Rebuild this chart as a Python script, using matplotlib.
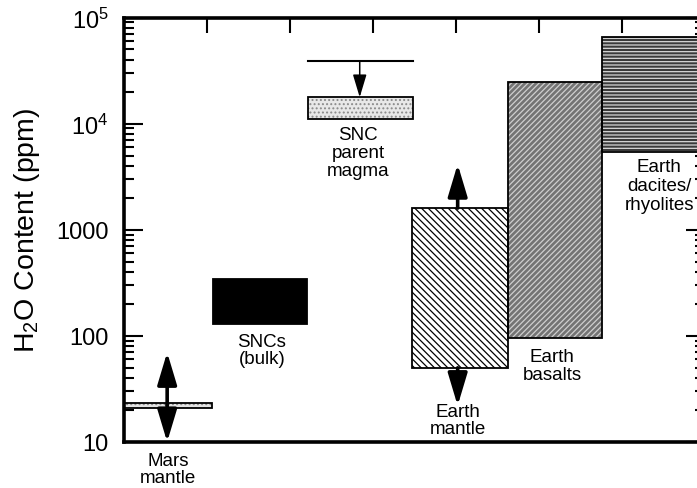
import numpy as np
import matplotlib
matplotlib.use("Agg")
import matplotlib.pyplot as plt
from matplotlib.patches import Rectangle

plt.rcParams['font.family'] = ['Liberation Sans', 'DejaVu Sans']
plt.rcParams['mathtext.default'] = 'regular'
plt.rcParams['hatch.linewidth'] = 0.9

# H2O content ranges (ppm)
groups = ["Mars\nmantle", "SNCs\n(bulk)", "SNC\nparent\nmagma",
          "Earth\nmantle", "Earth\nbasalts", "Earth\ndacites/\nrhyolites"]
low = [21, 130, 11000, 50, 95, 5400]
high = [23.5, 345, 17700, 1600, 24500, 66000]

# arrows: range limits
mars_arrow = [10, 70]
mantle_arrow = [22, 4150]
magma_upper = 38700

# layout (x in axis units)
x0 = [0, 1.07, 2.22, 3.47, 4.63, 5.76]
x1 = [1.06, 2.20, 3.48, 4.63, 5.76, 7.3]
fills = ['#e4e4e4', 'black', '#e8e8e8', 'white', '#747474', '#3a3a3a']
hatch_col = ['#8a8a8a', 'black', '#8a8a8a', 'black', '#cfcfcf', '#d8d8d8']
hatches = ['....', None, '....', '\\' * 5, '//////', '-----']
label_x = [0.53, 1.66, 2.82, 4.02, 5.16, 6.45]
label_y = [8.0, 106, 9440, 23.3, 76.7, 4700]
spacing = [0.95, 1.0, 1.05, 1.0, 1.05, 1.15]

fig = plt.figure(figsize=(6.97, 4.89), dpi=100)
ax = fig.add_axes([124 / 697, 46 / 489, 581 / 697, 424.5 / 489])
ax.set_yscale('log')
ax.set_ylim(10, 1e5)
ax.set_xlim(0, 7)

for i in range(len(groups)):
    r = Rectangle((x0[i], low[i]), x1[i] - x0[i], high[i] - low[i],
                  facecolor=fills[i], edgecolor=hatch_col[i], lw=0,
                  hatch=hatches[i], zorder=2)
    ax.add_patch(r)
    ax.add_patch(Rectangle((x0[i], low[i]), x1[i] - x0[i], high[i] - low[i],
                           fill=False, edgecolor='black', lw=1.3, zorder=3))
    ax.text(label_x[i], label_y[i], groups[i], ha='center', va='top',
            fontsize=13.5, linespacing=spacing[i], clip_on=False)

big = dict(arrowstyle='-|>,head_length=1.1,head_width=0.33', lw=2.6,
           color='black', shrinkA=0, shrinkB=0, mutation_scale=18)
small = dict(arrowstyle='-|>,head_length=1.0,head_width=0.3', lw=1.1,
             color='black', shrinkA=0, shrinkB=0, mutation_scale=14)

# Mars mantle double arrow
mid = np.sqrt(low[0] * high[0])
ax.annotate('', xy=(0.52, mars_arrow[1]), xytext=(0.52, mid), arrowprops=big, zorder=4)
ax.annotate('', xy=(0.52, mars_arrow[0]), xytext=(0.52, mid), arrowprops=big, zorder=4)

# Earth mantle arrows
ax.annotate('', xy=(4.02, mantle_arrow[1]), xytext=(4.02, high[3]), arrowprops=big, zorder=4)
ax.annotate('', xy=(4.02, mantle_arrow[0]), xytext=(4.02, low[3]), arrowprops=big, zorder=4)

# SNC parent magma upper limit
ax.plot([x0[2], x1[2]], [magma_upper, magma_upper], color='black', lw=1.5, zorder=4)
ax.annotate('', xy=(2.84, high[2]), xytext=(2.84, magma_upper), arrowprops=small, zorder=4)

ax.set_yticks([10, 100, 1000, 1e4, 1e5])
ax.set_yticklabels(['10', '100', '1000', r'$10^4$', r'$10^5$'], fontsize=17)
ax.set_xticks([1, 2, 3, 4, 5, 6])
ax.tick_params(which='both', direction='in', left=True, right=True, top=True,
               bottom=False, labelbottom=False, width=1.5, color='black')
ax.tick_params(which='major', length=14, pad=11)
ax.tick_params(which='minor', length=7)
ax.tick_params(axis='x', which='major', length=11)
for s in ax.spines.values():
    s.set_linewidth(2.6)

ax.set_ylabel(r'H$_2$O Content (ppm)', fontsize=20.5, labelpad=10)

fig.savefig('out.png', dpi=100)
